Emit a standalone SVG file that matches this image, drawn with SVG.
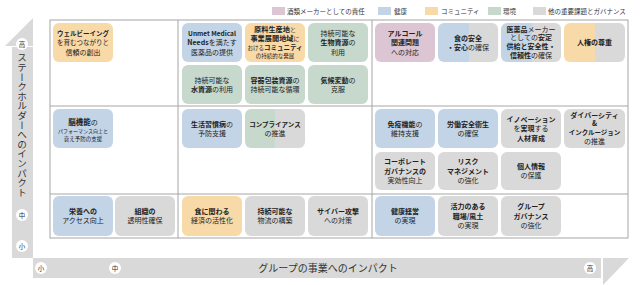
<svg xmlns="http://www.w3.org/2000/svg" width="640" height="285" viewBox="0 0 640 285">
<defs>
<style>
text{font-family:"Noto Sans CJK JP","Noto Sans",sans-serif;fill:#222;}
.t{font-size:7px;text-anchor:middle;}
.b{font-weight:bold;}
.lg{font-size:6.5px;fill:#333;}
.ax{fill:#d9d9d9;}
.cir{fill:#fff;}
.ct{font-size:6.5px;text-anchor:middle;fill:#333;}
.pk{fill:#dcc6d4;}
.bl{fill:#c2d4e6;}
.or{fill:#f8d9a8;}
.gr{fill:#c7d8cc;}
.gy{fill:#d9d9d9;}
.grid{fill:none;stroke:#a6a6a6;stroke-width:1;}
</style>
<linearGradient id="blgy" x1="0" x2="1" y1="0" y2="0"><stop offset="0.52" stop-color="#c2d4e6"/><stop offset="0.52" stop-color="#d9d9d9"/></linearGradient>
<linearGradient id="orgy" x1="0" x2="1" y1="0" y2="0"><stop offset="0.51" stop-color="#f8d9a8"/><stop offset="0.51" stop-color="#d9d9d9"/></linearGradient>
<linearGradient id="grgy" x1="0" x2="1" y1="0" y2="0"><stop offset="0.5" stop-color="#c7d8cc"/><stop offset="0.5" stop-color="#d9d9d9"/></linearGradient>
</defs>

<g id="legend">
<rect class="pk" x="272" y="7" width="13" height="8"/><text class="lg" x="287" y="14">酒類メーカーとしての責任</text>
<rect class="bl" x="378" y="7" width="13" height="8"/><text class="lg" x="394" y="14">健康</text>
<rect class="or" x="425" y="7" width="13" height="8"/><text class="lg" x="441" y="14">コミュニティ</text>
<rect class="gr" x="488" y="7" width="13" height="8"/><text class="lg" x="503" y="14">環境</text>
<rect class="gy" x="533" y="7" width="13" height="8"/><text class="lg" x="548" y="14">他の重要課題とガバナンス</text>
</g>

<g id="axes">
<polygon class="ax" points="5,46 33,18 33,46"/>
<rect class="ax" x="12" y="47" width="21" height="211"/>
<rect class="ax" x="33" y="258" width="568" height="20"/>
<polygon class="ax" points="603,258 629,258 603,285"/>
<circle class="cir" cx="22" cy="44" r="6"/><text class="ct" x="22" y="46.5">高</text>
<circle class="cir" cx="22" cy="215" r="6"/><text class="ct" x="22" y="217.5">中</text>
<circle class="cir" cx="22" cy="246" r="6"/><text class="ct" x="22" y="248.5">小</text>
<circle class="cir" cx="41" cy="268" r="6"/><text class="ct" x="41" y="270.5">小</text>
<circle class="cir" cx="115" cy="268" r="6"/><text class="ct" x="115" y="270.5">中</text>
<circle class="cir" cx="590" cy="268" r="6"/><text class="ct" x="590" y="270.5">高</text>
<text x="22" y="53" style="writing-mode:vertical-rl;font-size:9.6px;fill:#333;">ステークホルダーへのインパクト</text>
<text x="328" y="272" style="font-size:10px;text-anchor:middle;fill:#333;">グループの事業へのインパクト</text>
</g>

<g id="connectors">
<rect class="grid" x="50" y="20" width="578" height="218"/>
<line class="grid" x1="178" y1="20" x2="178" y2="238"/>
<line class="grid" x1="372" y1="20" x2="372" y2="238"/>
<line class="grid" x1="50" y1="106" x2="628" y2="106"/>
<line class="grid" x1="50" y1="194" x2="628" y2="194"/>
</g>

<g id="n1"><rect class="or" x="53" y="23" width="60" height="39" rx="6"/>
<text class="t b" x="83" y="35.5" style="font-size:6.5px">ウェルビーイング</text>
<text class="t" x="83" y="45" style="font-size:6.5px">を育むつながりと</text>
<text class="t" x="83" y="54.5">信頼の創出</text></g>

<g id="n2"><rect class="bl" x="182" y="23" width="60" height="39" rx="6"/>
<text class="t b" x="212" y="35.5" style="font-size:6.5px">Unmet Medical</text>
<text class="t" x="212" y="45"><tspan class="b">Needs</tspan>を満たす</text>
<text class="t" x="212" y="54.5">医薬品の提供</text></g>

<g id="n3"><rect class="or" x="245" y="23" width="60" height="39" rx="6"/>
<text class="t" x="275" y="31.5"><tspan class="b" style="font-size:7.2px">原料生産地</tspan><tspan style="font-size:6px">と</tspan></text>
<text class="t" x="275" y="40.5"><tspan class="b" style="font-size:7.2px">事業展開地域</tspan><tspan style="font-size:6px">に</tspan></text>
<text class="t" x="275" y="49.5"><tspan style="font-size:5.5px">おける</tspan><tspan class="b" style="font-size:6.5px">コミュニティ</tspan></text>
<text class="t" x="275" y="58.3" style="font-size:5.5px">の持続的な発展</text></g>

<g id="n4"><rect class="gr" x="308" y="23" width="60" height="39" rx="6"/>
<text class="t" x="338" y="35.5">持続可能な</text>
<text class="t" x="338" y="45"><tspan class="b">生物資源</tspan>の</text>
<text class="t" x="338" y="54.5">利用</text></g>

<g id="n5"><rect class="gr" x="182" y="65" width="60" height="39" rx="6"/>
<text class="t" x="212" y="82.5">持続可能な</text>
<text class="t" x="212" y="91.5"><tspan class="b">水資源</tspan>の利用</text></g>

<g id="n6"><rect class="gr" x="245" y="65" width="60" height="39" rx="6"/>
<text class="t" x="275" y="82.5"><tspan class="b">容器包装資源</tspan>の</text>
<text class="t" x="275" y="91.5">持続可能な循環</text></g>

<g id="n7"><rect class="gr" x="308" y="65" width="60" height="39" rx="6"/>
<text class="t" x="338" y="82.5"><tspan class="b">気候変動</tspan>の</text>
<text class="t" x="338" y="91.5">克服</text></g>

<g id="n8"><rect class="pk" x="375" y="23" width="60" height="39" rx="6"/>
<text class="t b" x="405" y="35.5">アルコール</text>
<text class="t b" x="405" y="45">関連問題</text>
<text class="t" x="405" y="54.5">への対応</text></g>

<g id="n9"><rect fill="url(#blgy)" x="438" y="23" width="60" height="39" rx="6"/>
<text class="t b" x="468" y="40.5">食の安全</text>
<text class="t" x="468" y="49.5"><tspan class="b">・安心</tspan>の確保</text></g>

<g id="n10"><rect fill="url(#blgy)" x="501" y="23" width="60" height="39" rx="6"/>
<text class="t" x="531" y="31.5"><tspan class="b">医薬品</tspan>メーカー</text>
<text class="t" x="531" y="40.3">としての<tspan class="b">安定</tspan></text>
<text class="t b" x="531" y="49.1">供給と安全性・</text>
<text class="t" x="531" y="57.9"><tspan class="b">信頼性</tspan>の確保</text></g>

<g id="n11"><rect fill="url(#orgy)" x="564" y="23" width="61" height="39" rx="6"/>
<text class="t b" x="594.5" y="45">人権の尊重</text></g>

<g id="n12"><rect class="bl" x="53" y="109" width="60" height="39" rx="6"/>
<text class="t" x="83" y="124.5"><tspan class="b" style="font-size:7.5px">脳機能</tspan>の</text>
<text class="t" x="83" y="132.5" style="font-size:5px">パフォーマンス向上と</text>
<text class="t" x="83" y="140.5" style="font-size:5.5px">衰え予防の支援</text></g>

<g id="n13"><rect class="bl" x="182" y="109" width="60" height="39" rx="6"/>
<text class="t" x="212" y="126.5"><tspan class="b">生活習慣病</tspan>の</text>
<text class="t" x="212" y="135.5">予防支援</text></g>

<g id="n14"><rect fill="url(#grgy)" x="245" y="109" width="60" height="39" rx="6"/>
<text class="t b" x="275" y="126.5" style="font-size:6.5px">コンプライアンス</text>
<text class="t" x="275" y="135.5">の推進</text></g>

<g id="n15"><rect class="bl" x="375" y="109" width="60" height="39" rx="6"/>
<text class="t" x="405" y="126.5"><tspan class="b">免疫機能</tspan>の</text>
<text class="t" x="405" y="135.5">維持支援</text></g>

<g id="n16"><rect class="bl" x="438" y="109" width="60" height="39" rx="6"/>
<text class="t b" x="468" y="126.5">労働安全衛生</text>
<text class="t" x="468" y="135.5">の確保</text></g>

<g id="n17"><rect class="gy" x="501" y="109" width="60" height="39" rx="6"/>
<text class="t b" x="531" y="121.5">イノベーション</text>
<text class="t" x="531" y="131">を<tspan class="b">実現</tspan>する</text>
<text class="t b" x="531" y="140.5">人材育成</text></g>

<g id="n18"><rect class="gy" x="564" y="109" width="61" height="39" rx="6"/>
<text class="t b" x="594.5" y="117.5">ダイバーシティ</text>
<text class="t b" x="594.5" y="126.3">&amp;</text>
<text class="t b" x="594.5" y="135.1" style="font-size:6.5px">インクルージョン</text>
<text class="t" x="594.5" y="144">の推進</text></g>

<g id="n19"><rect class="gy" x="375" y="152" width="60" height="38" rx="6"/>
<text class="t b" x="405" y="164">コーポレート</text>
<text class="t b" x="405" y="173.5">ガバナンスの</text>
<text class="t" x="405" y="183">実効性向上</text></g>

<g id="n20"><rect class="gy" x="438" y="152" width="60" height="38" rx="6"/>
<text class="t b" x="468" y="164">リスク</text>
<text class="t b" x="468" y="173.5">マネジメント</text>
<text class="t" x="468" y="183">の強化</text></g>

<g id="n21"><rect class="gy" x="501" y="152" width="60" height="38" rx="6"/>
<text class="t b" x="531" y="169">個人情報</text>
<text class="t" x="531" y="178">の保護</text></g>

<g id="n22"><rect class="bl" x="53" y="196" width="60" height="40" rx="6"/>
<text class="t b" x="83" y="214">栄養への</text>
<text class="t" x="83" y="223">アクセス向上</text></g>

<g id="n23"><rect class="gy" x="115" y="196" width="60" height="40" rx="6"/>
<text class="t b" x="145" y="214">組織の</text>
<text class="t" x="145" y="223">透明性確保</text></g>

<g id="n24"><rect class="or" x="182" y="196" width="60" height="40" rx="6"/>
<text class="t b" x="212" y="214">食に関わる</text>
<text class="t" x="212" y="223">経済の活性化</text></g>

<g id="n25"><rect class="gy" x="245" y="196" width="60" height="40" rx="6"/>
<text class="t b" x="275" y="214">持続可能な</text>
<text class="t" x="275" y="223">物流の構築</text></g>

<g id="n26"><rect class="gy" x="308" y="196" width="60" height="40" rx="6"/>
<text class="t b" x="338" y="214">サイバー攻撃</text>
<text class="t" x="338" y="223">への対策</text></g>

<g id="n27"><rect class="bl" x="375" y="196" width="60" height="40" rx="6"/>
<text class="t b" x="405" y="214">健康経営</text>
<text class="t" x="405" y="223">の実現</text></g>

<g id="n28"><rect class="gy" x="438" y="196" width="60" height="40" rx="6"/>
<text class="t b" x="468" y="209">活力のある</text>
<text class="t b" x="468" y="218.5">職場/風土</text>
<text class="t" x="468" y="228">の実現</text></g>

<g id="n29"><rect class="gy" x="501" y="196" width="60" height="40" rx="6"/>
<text class="t b" x="531" y="209">グループ</text>
<text class="t b" x="531" y="218.5">ガバナンス</text>
<text class="t" x="531" y="228">の強化</text></g>
</svg>
